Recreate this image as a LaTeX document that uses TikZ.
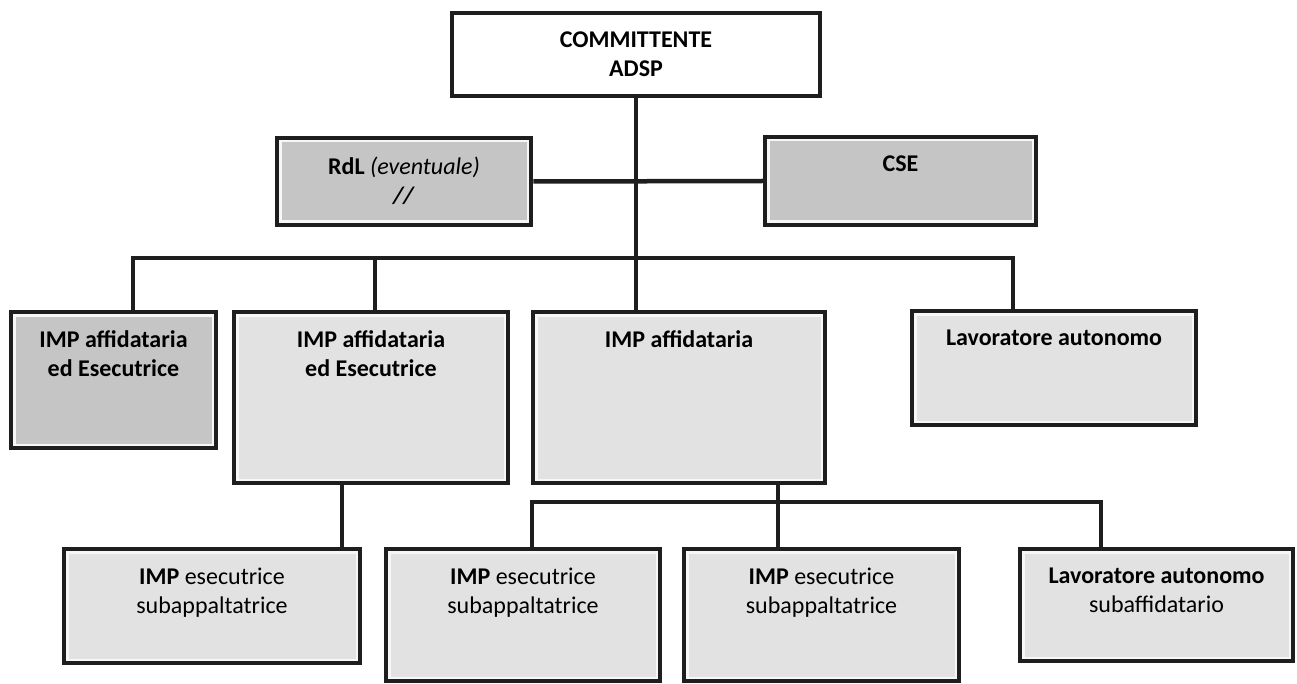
\documentclass[tikz,border=0pt]{standalone}
\usepackage{fontspec}
\setmainfont{Carlito}
\usetikzlibrary{positioning}
\definecolor{darkfill}{HTML}{C5C5C5}
\definecolor{lightfill}{HTML}{E2E2E2}
\definecolor{edgegray}{HTML}{1E1E1E}
\tikzset{
  orgbox/.style={draw=edgegray, line width=4.5pt, fill=white!94!gray, inner sep=0pt,
    path picture={\fill[#1] ([shift={(4.5pt,-4.5pt)}]path picture bounding box.north west)
      rectangle ([shift={(-4.5pt,4.5pt)}]path picture bounding box.south east);}},
  topbox/.style={draw=edgegray, line width=4.5pt, fill=white, inner sep=0pt},
  lbl/.style={font=\fontsize{24}{29}\selectfont\bfseries, align=center, inner sep=0pt},
  link/.style={draw=edgegray, line width=4.5pt}
}
\begin{document}
\begin{tikzpicture}[x=1pt,y=-1pt]
\useasboundingbox (0,0) rectangle (1297,684);

% boxes
\node[topbox, minimum width=368pt, minimum height=83pt] (top) at (636,54.5) {};
\node[orgbox=darkfill, minimum width=254pt, minimum height=87pt] (rdl) at (404,181.5) {};
\node[orgbox=darkfill, minimum width=271pt, minimum height=88pt] (cse) at (900.5,181) {};

\node[orgbox=darkfill, minimum width=205pt, minimum height=136pt] (aff1) at (113.5,380) {};
\node[orgbox=lightfill, minimum width=274pt, minimum height=171pt] (aff2) at (371,397.5) {};
\node[orgbox=lightfill, minimum width=292pt, minimum height=171pt] (aff3) at (679,397.5) {};
\node[orgbox=lightfill, minimum width=284pt, minimum height=114pt] (lav) at (1054,368) {};

\node[orgbox=lightfill, minimum width=296pt, minimum height=114pt] (esec1) at (212,606) {};
\node[orgbox=lightfill, minimum width=274pt, minimum height=132pt] (esec2) at (523,615) {};
\node[orgbox=lightfill, minimum width=275pt, minimum height=132pt] (esec3) at (821.5,615) {};
\node[orgbox=lightfill, minimum width=273pt, minimum height=112pt] (lavsub) at (1156.5,605) {};

% texts
\node[lbl, below=21pt of top.north] (topt) {COMMITTENTE\\ADSP};
\node[lbl, below=21pt of rdl.north] (rdlt) {RdL \textit{\mdseries(eventuale)}\\\textit{//}};
\node[lbl, below=21pt of cse.north] (cset) {CSE};
\node[lbl, below=21pt of aff1.north] (aff1t) {IMP affidataria\\ed Esecutrice};
\node[lbl, below=21pt of aff2.north] (aff2t) {IMP affidataria\\ed Esecutrice};
\node[lbl, below=21pt of aff3.north] (aff3t) {IMP affidataria};
\node[lbl, below=21pt of lav.north] (lavt) {Lavoratore autonomo};
\node[lbl, below=21pt of esec1.north] (esec1t) {IMP {\mdseries esecutrice}\\{\mdseries subappaltatrice}};
\node[lbl, below=21pt of esec2.north] (esec2t) {IMP {\mdseries esecutrice}\\{\mdseries subappaltatrice}};
\node[lbl, below=21pt of esec3.north] (esec3t) {IMP {\mdseries esecutrice}\\{\mdseries subappaltatrice}};
\node[lbl, below=21pt of lavsub.north] (lavsubt) {Lavoratore autonomo\\{\mdseries subaffidatario}};

% connectors
\coordinate (bus) at (633,258);
\coordinate (bus2) at (778,502);
\coordinate (t1) at ([xshift=19.5pt]aff1.north);
\coordinate (t2) at ([xshift=4pt]aff2.north);
\coordinate (t4) at ([xshift=-41pt]lav.north);
\coordinate (t5) at ([xshift=130pt]esec1.north);
\coordinate (t6) at ([xshift=-43.5pt]esec3.north);
\coordinate (t7) at ([xshift=9pt]esec2.north);
\coordinate (t8) at ([xshift=-55.5pt]lavsub.north);

\draw[link] (top.south) -- (top.south |- aff3.north);
\draw[link] (rdl.east) -- (cse.west);
\draw[link] (t1) |- (bus) -| (t4);
\draw[link] (t2) -- (t2 |- bus);
\draw[link] (t5) -- (t5 |- aff2.south);
\draw[link] (t6) -- (t6 |- aff3.south);
\draw[link] (t7) |- (bus2) -| (t8);
\end{tikzpicture}
\end{document}
